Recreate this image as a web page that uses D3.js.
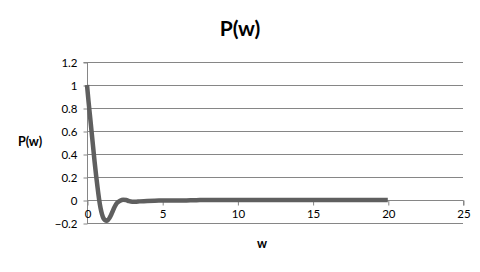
<!DOCTYPE html>
<html>
<head>
<meta charset="utf-8">
<script src="https://cdn.jsdelivr.net/npm/d3@7"></script>
<style>
  body { margin: 0; background: #fff; }
  text { font-family: Lato, "Liberation Sans", sans-serif; }
</style>
</head>
<body>
<div id="chart"></div>
<script>
// values
const wValues = [0, 0.1, 0.2, 0.3, 0.4, 0.5, 0.6, 0.7, 0.8, 0.9, 1.0, 1.1, 1.2, 1.3, 1.4, 1.5, 1.6, 1.7, 1.8, 1.9, 2.0, 2.2, 2.4, 2.6, 2.8, 3.0, 3.2, 3.5, 4, 4.5, 5, 6, 7, 7.5, 8, 10, 12, 14, 16, 18, 20];
const pValues = [1.0, 0.86, 0.73, 0.6, 0.47, 0.34, 0.22, 0.11, 0.01, -0.07, -0.125, -0.16, -0.175, -0.18, -0.172, -0.155, -0.13, -0.1, -0.07, -0.045, -0.025, -0.006, 0.003, 0.0, -0.01, -0.015, -0.015, -0.012, -0.008, -0.006, -0.005, -0.004, -0.003, 0, 0.001, 0.001, 0.001, 0.001, 0.001, 0.001, 0.001];
const xTicks = [0, 5, 10, 15, 20, 25];
const yTicks = [-0.2, 0, 0.2, 0.4, 0.6, 0.8, 1, 1.2];

const width = 480, height = 272;
const plot = { left: 87, right: 463, top: 62, bottom: 223 };

const svg = d3.select("#chart").append("svg")
  .attr("width", width)
  .attr("height", height);

const x = d3.scaleLinear().domain([0, 25]).range([plot.left, plot.right]);
const y = d3.scaleLinear().domain([-0.2, 1.2]).range([plot.bottom, plot.top]);

// gridlines
svg.append("g")
  .selectAll("line")
  .data(yTicks)
  .join("line")
  .attr("x1", plot.left)
  .attr("x2", plot.right)
  .attr("y1", d => Math.round(y(d)) + 0.5)
  .attr("y2", d => Math.round(y(d)) + 0.5)
  .attr("stroke", "#868686")
  .attr("stroke-width", 1);

// y axis
const yAxis = svg.append("g")
  .attr("transform", `translate(${plot.left + 0.5},0.5)`)
  .call(d3.axisLeft(y).tickValues(yTicks).tickSize(4).tickPadding(6)
    .tickFormat(d => d3.format("")(+d.toFixed(1))));
yAxis.select(".domain").attr("stroke", "#868686");
yAxis.selectAll(".tick line").attr("stroke", "#868686")
  .attr("transform", d => `translate(0,${Math.round(y(d)) - y(d)})`);
yAxis.selectAll(".tick text")
  .attr("font-size", 11.5)
  .attr("fill", "#000")
  .style("font-family", "Lato, sans-serif");
yAxis.select(".domain").attr("d", `M-4,${y(1.2)}H0V${y(-0.2)}`);

// x axis at zero
const xAxis = svg.append("g")
  .attr("transform", `translate(0.5,${Math.round(y(0)) + 0.5})`)
  .call(d3.axisBottom(x).tickValues(xTicks).tickSize(5).tickPadding(4));
xAxis.select(".domain").attr("stroke", "#868686").attr("d", `M${plot.left},5V0H${plot.right}V5`);
xAxis.selectAll(".tick line").attr("stroke", "#868686");
xAxis.selectAll(".tick text")
  .attr("font-size", 11.5)
  .attr("fill", "#000")
  .style("font-family", "Lato, sans-serif");

// series line
const line = d3.line()
  .x((d, i) => x(wValues[i]))
  .y(d => y(d))
  .curve(d3.curveMonotoneX);

svg.append("path")
  .datum(pValues)
  .attr("d", line)
  .attr("fill", "none")
  .attr("stroke", "#5f5f5f")
  .attr("stroke-width", 4.5)
  .attr("stroke-linejoin", "round");

// titles
svg.append("text")
  .attr("x", 240)
  .attr("y", 36)
  .attr("text-anchor", "middle")
  .attr("font-size", 21)
  .attr("font-weight", "bold")
  .text("P(w)");

svg.append("text")
  .attr("x", 30)
  .attr("y", 146)
  .attr("text-anchor", "middle")
  .attr("font-size", 12.5)
  .attr("font-weight", "bold")
  .text("P(w)");

svg.append("text")
  .attr("x", 262)
  .attr("y", 248)
  .attr("text-anchor", "middle")
  .attr("font-size", 12.5)
  .attr("font-weight", "bold")
  .text("w");
</script>
</body>
</html>
